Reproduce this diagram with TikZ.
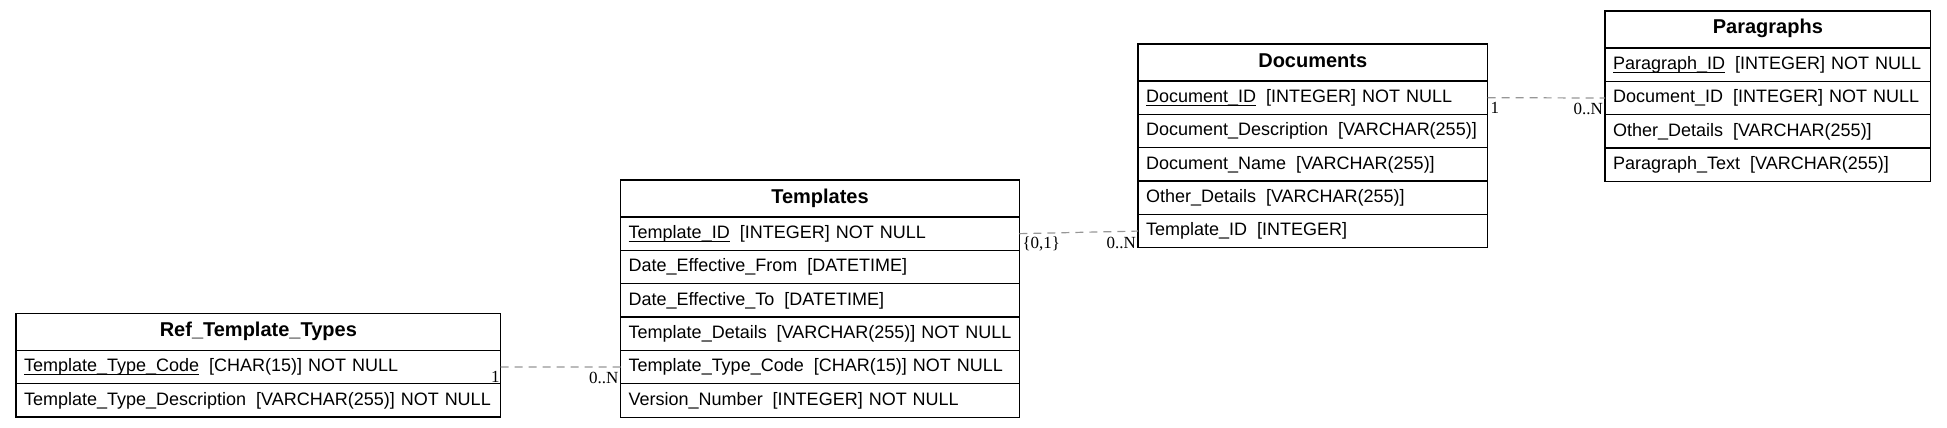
\documentclass[tikz,border=0pt]{standalone}
\usepackage{fontspec}
\setmainfont{Liberation Sans}
\newfontfamily\lblfont{Liberation Serif}
\usetikzlibrary{calc}
\newsavebox\pkbox
\newcommand\pkey[1]{\sbox\pkbox{#1}\rlap{\rule[-3.6pt]{\wd\pkbox}{1pt}}\usebox\pkbox}
\newcommand\fl[2]{\mbox{#1\hspace{10pt}#2}}
\definecolor{relgray}{RGB}{150,150,150}
\tikzset{
  hdr/.style={draw, line width=1.2pt, outer sep=0pt, inner sep=0pt, anchor=north west,
    minimum width=#1, minimum height=37pt, text height=14pt, text depth=5pt,
    font=\bfseries\fontsize{20}{24}\selectfont},
  fld/.style={draw, line width=1.2pt, outer sep=0pt, inner xsep=8pt, inner ysep=0pt, anchor=north west,
    text width=#1, align=left, minimum height=33.35pt, text height=13.5pt, text depth=4pt,
    font=\fontsize{18}{22}\selectfont},
  rel/.style={draw=relgray, line width=1.2pt, dash pattern=on 8pt off 6pt},
  lbl/.style={inner sep=0pt, font=\lblfont\fontsize{17}{20}\selectfont}
}
\begin{document}
\begin{tikzpicture}[x=1pt,y=1pt]
\useasboundingbox (0,0) rectangle (1947,-428);
% Ref_Template_Types
\node[hdr=484.7pt] (rh) at (16,-313.3) {Ref\_Template\_Types};
\node[fld=468.7pt] (r1) at (rh.south west) {\fl{\pkey{Template\_Type\_Code}}{[CHAR(15)] NOT NULL}};
\node[fld=468.7pt] (r2) at (r1.south west) {\fl{Template\_Type\_Description}{[VARCHAR(255)] NOT NULL}};
% Templates
\node[hdr=398.6pt] (th) at (620.7,-180) {Templates};
\node[fld=382.6pt] (t1) at (th.south west) {\fl{\pkey{Template\_ID}}{[INTEGER] NOT NULL}};
\node[fld=382.6pt] (t2) at (t1.south west) {\fl{Date\_Effective\_From}{[DATETIME]}};
\node[fld=382.6pt] (t3) at (t2.south west) {\fl{Date\_Effective\_To}{[DATETIME]}};
\node[fld=382.6pt] (t4) at (t3.south west) {\fl{Template\_Details}{[VARCHAR(255)] NOT NULL}};
\node[fld=382.6pt] (t5) at (t4.south west) {\fl{Template\_Type\_Code}{[CHAR(15)] NOT NULL}};
\node[fld=382.6pt] (t6) at (t5.south west) {\fl{Version\_Number}{[INTEGER] NOT NULL}};
% Documents
\node[hdr=349.5pt] (dh) at (1138,-44) {Documents};
\node[fld=333.5pt] (d1) at (dh.south west) {\fl{\pkey{Document\_ID}}{[INTEGER] NOT NULL}};
\node[fld=333.5pt] (d2) at (d1.south west) {\fl{Document\_Description}{[VARCHAR(255)]}};
\node[fld=333.5pt] (d3) at (d2.south west) {\fl{Document\_Name}{[VARCHAR(255)]}};
\node[fld=333.5pt] (d4) at (d3.south west) {\fl{Other\_Details}{[VARCHAR(255)]}};
\node[fld=333.5pt] (d5) at (d4.south west) {\fl{Template\_ID}{[INTEGER]}};
% Paragraphs
\node[hdr=325.7pt] (ph) at (1605,-11) {Paragraphs};
\node[fld=309.7pt] (p1) at (ph.south west) {\fl{\pkey{Paragraph\_ID}}{[INTEGER] NOT NULL}};
\node[fld=309.7pt] (p2) at (p1.south west) {\fl{Document\_ID}{[INTEGER] NOT NULL}};
\node[fld=309.7pt] (p3) at (p2.south west) {\fl{Other\_Details}{[VARCHAR(255)]}};
\node[fld=309.7pt] (p4) at (p3.south west) {\fl{Paragraph\_Text}{[VARCHAR(255)]}};
% relations
\draw[rel] (r1.east) -- (t5.west);
\draw[rel] (t1.east) -- (d5.west);
\draw[rel] (d1.east) -- (p2.west);
% labels
\node[lbl, anchor=base east] (l1a) at ($(r1.east)+(-1,-16)$) {1};
\node[lbl, anchor=base east] (l1b) at ($(t5.west)+(-2,-16)$) {0..N};
\node[lbl, anchor=base west] (l2a) at ($(t1.east)+(3,-15)$) {\{0,1\}};
\node[lbl, anchor=base east] (l2b) at ($(d5.west)+(-2,-17)$) {0..N};
\node[lbl, anchor=base west] (l3a) at ($(d1.east)+(3,-16)$) {1};
\node[lbl, anchor=base east] (l3b) at ($(p2.west)+(-2,-16)$) {0..N};
\end{tikzpicture}
\end{document}
